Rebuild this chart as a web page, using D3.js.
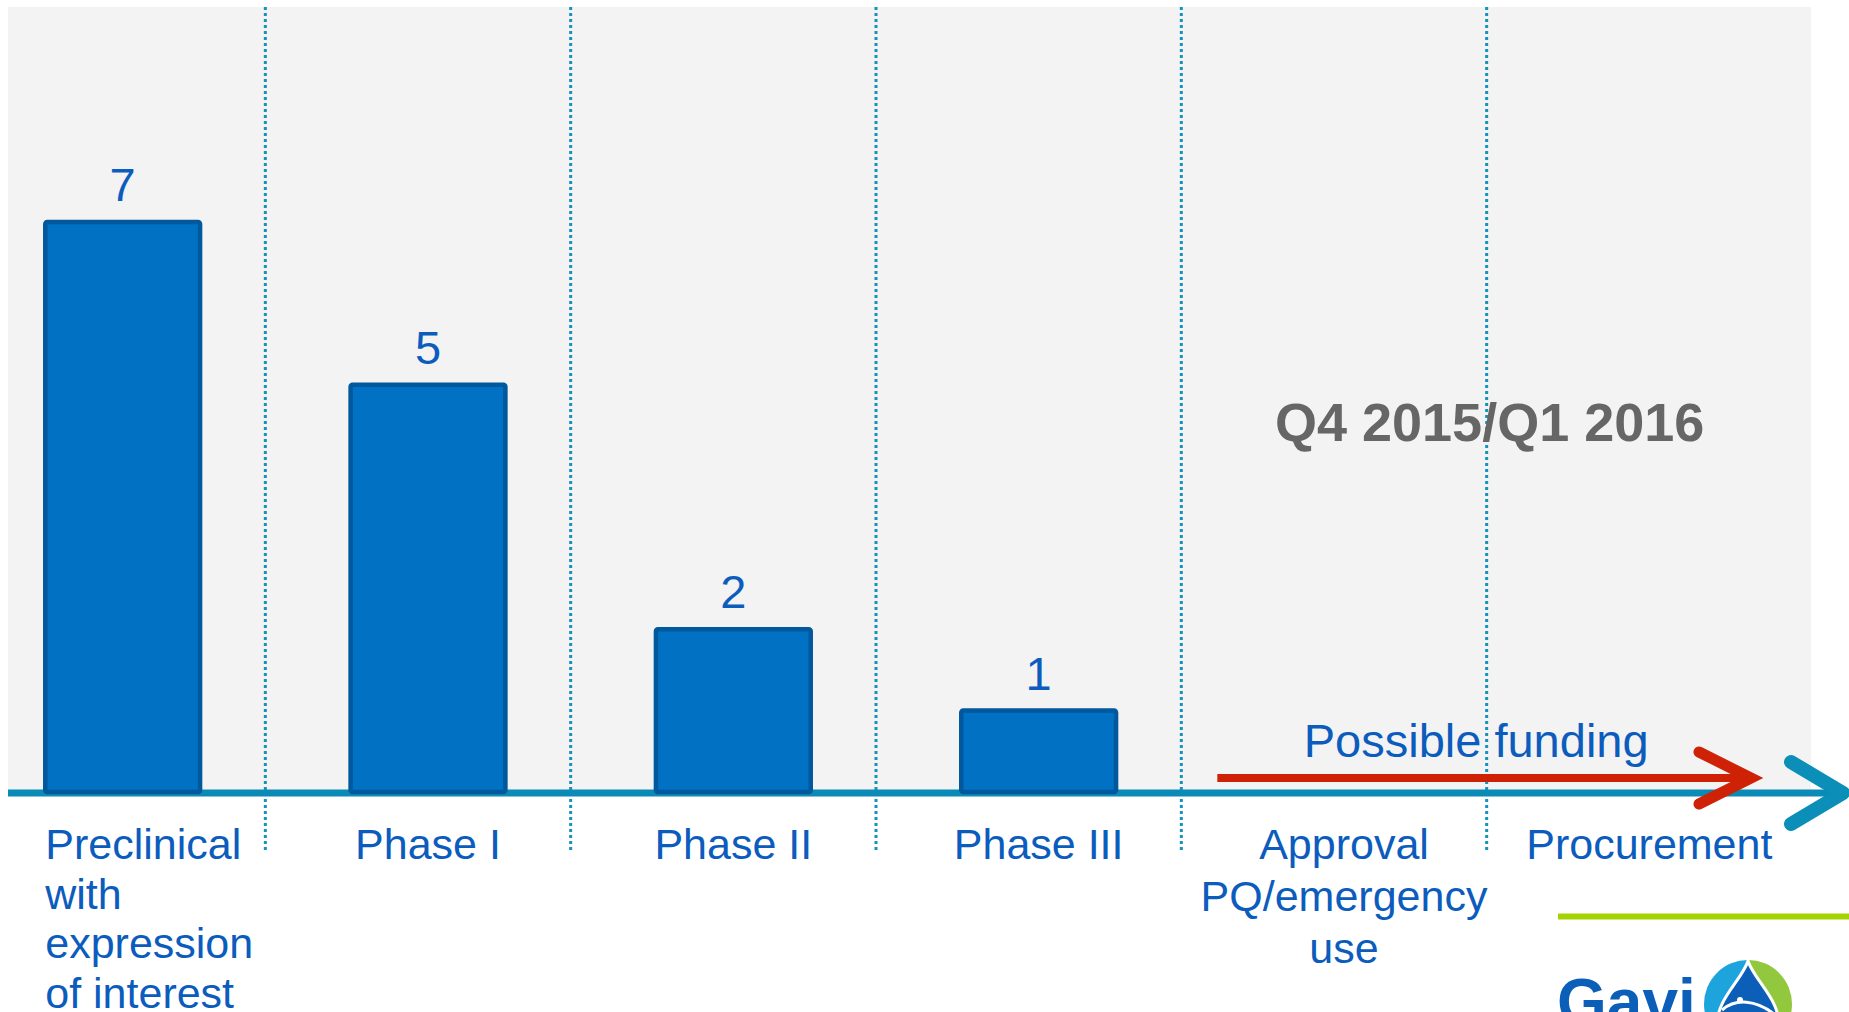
<!DOCTYPE html>
<html>
<head>
<meta charset="utf-8">
<script src="https://cdn.jsdelivr.net/npm/d3@7/dist/d3.min.js"></script>
<style>
  html, body { margin: 0; padding: 0; background: #ffffff; overflow: hidden; }
  svg { display: block; }
  text { font-family: "Liberation Sans", Arial, Helvetica, sans-serif; }
</style>
</head>
<body>
<svg id="chart" width="1849" height="1012"></svg>
<script>
// Pipeline stages, label lines and candidate counts per stage
const stages = ["Preclinical", "Phase I", "Phase II", "Phase III", "Approval", "Procurement"];
const stageLines = [
  ["Preclinical", "with", "expression", "of interest"],
  ["Phase I"],
  ["Phase II"],
  ["Phase III"],
  ["Approval", "PQ/emergency", "use"],
  ["Procurement"]
];
const candidates = [7, 5, 2, 1];
const periodLabel = "Q4 2015/Q1 2016";
const fundingLabel = "Possible funding";
const fundingFrom = "Approval";
const fundingTo = "Procurement";

const W = 1849, H = 1012;
const svg = d3.select("#chart");

const panel = { left: 8, top: 7, right: 1811, bottom: 792 };

const x = d3.scaleBand().domain(stages).range([-30, 1802]).paddingInner(0).paddingOuter(0);
const y = d3.scaleLinear().domain([0, 7]).range([panel.bottom, 222]);
const barW = x.bandwidth() * 0.507;
const cx = s => x(s) + x.bandwidth() / 2;

const blueText = "#0b5cbd";
const teal = "#0a8ab7";

// light grey plot panel
svg.append("rect")
  .attr("x", panel.left).attr("y", panel.top)
  .attr("width", panel.right - panel.left).attr("height", panel.bottom - panel.top)
  .attr("fill", "#f3f3f3");

// dotted stage separators
svg.append("g").selectAll("line")
  .data(stages.slice(1))
  .join("line")
  .attr("x1", d => x(d) - 10).attr("x2", d => x(d) - 10)
  .attr("y1", panel.top).attr("y2", 852)
  .attr("stroke", "#1592be").attr("stroke-width", 3)
  .attr("stroke-dasharray", "3,3");

// timeline axis with arrowhead
svg.append("line")
  .attr("x1", panel.left).attr("x2", 1840)
  .attr("y1", y(0) + 1).attr("y2", y(0) + 1)
  .attr("stroke", teal).attr("stroke-width", 7);
svg.append("path")
  .attr("d", d3.line()([[1791, 762], [1843, 793], [1791, 824]]))
  .attr("fill", "none").attr("stroke", "#0b8fb8").attr("stroke-width", 14)
  .attr("stroke-linecap", "round").attr("stroke-linejoin", "round");

// bars
const barData = candidates.map((v, i) => ({ stage: stages[i], value: v }));
svg.append("g").selectAll("rect")
  .data(barData)
  .join("rect")
  .attr("x", d => cx(d.stage) - barW / 2)
  .attr("y", d => y(d.value))
  .attr("width", barW)
  .attr("height", d => y(0) - y(d.value))
  .attr("rx", 2)
  .attr("fill", "#0071c3")
  .attr("stroke", "#02589c")
  .attr("stroke-width", 4.5);

// value labels
svg.append("g").selectAll("text")
  .data(barData)
  .join("text")
  .attr("x", d => cx(d.stage))
  .attr("y", d => y(d.value) - 21)
  .attr("text-anchor", "middle")
  .attr("font-size", 47)
  .attr("fill", blueText)
  .text(d => d.value);

// stage labels below the axis
const lab = svg.append("g").selectAll("text")
  .data(stages)
  .join("text")
  .attr("font-size", 43)
  .attr("fill", blueText)
  .attr("text-anchor", (d, i) => i === 0 ? "start" : "middle")
  .attr("x", (d, i) => i === 0 ? cx(d) - barW / 2 : cx(d))
  .attr("y", 859);
lab.each(function (d, i) {
  const t = d3.select(this);
  const lh = i === 0 ? 49.5 : 52;
  stageLines[i].forEach((line, k) => {
    t.append("tspan")
      .attr("x", t.attr("x"))
      .attr("dy", k === 0 ? 0 : lh)
      .text(line);
  });
});

// period annotation
svg.append("text")
  .attr("x", x(fundingTo) - 7).attr("y", 441)
  .attr("text-anchor", "middle")
  .attr("font-size", 54).attr("font-weight", "bold")
  .attr("fill", "#666666")
  .text(periodLabel);

// possible funding arrow
const fx0 = x(fundingFrom) + 26;
const fx1 = x(fundingTo) + x.bandwidth() - 51;
svg.append("line")
  .attr("x1", fx0).attr("x2", fx1 - 4)
  .attr("y1", 778).attr("y2", 778)
  .attr("stroke", "#cf2106").attr("stroke-width", 8);
svg.append("path")
  .attr("d", d3.line()([[fx1 - 52, 752], [fx1, 778], [fx1 - 52, 804]]))
  .attr("fill", "none").attr("stroke", "#cf2106").attr("stroke-width", 11)
  .attr("stroke-linecap", "round").attr("stroke-linejoin", "miter");
svg.append("text")
  .attr("x", (fx0 + fx1) / 2 - 8).attr("y", 757)
  .attr("text-anchor", "middle")
  .attr("font-size", 47)
  .attr("fill", blueText)
  .text(fundingLabel);

// footer rule
svg.append("line")
  .attr("x1", 1558).attr("x2", W)
  .attr("y1", 916.5).attr("y2", 916.5)
  .attr("stroke", "#a3d300").attr("stroke-width", 6);

// Gavi logo (cropped by the page bottom)
const logo = svg.append("g");
logo.append("text")
  .attr("x", 1557).attr("y", 1024)
  .attr("font-size", 64).attr("font-weight", "bold")
  .attr("fill", "#0b5fb8")
  .text("Gavi");
const lc = { x: 1748, y: 1004, r: 44 };
logo.append("path")
  .attr("d", d3.arc()({ innerRadius: 0, outerRadius: lc.r, startAngle: Math.PI, endAngle: 2 * Math.PI }))
  .attr("transform", `translate(${lc.x},${lc.y})`)
  .attr("fill", "#1ea4dd");
logo.append("path")
  .attr("d", d3.arc()({ innerRadius: 0, outerRadius: lc.r, startAngle: 0, endAngle: Math.PI }))
  .attr("transform", `translate(${lc.x},${lc.y})`)
  .attr("fill", "#92c83e");
logo.append("path")
  .attr("d", `M${lc.x},${lc.y - lc.r + 1} C${lc.x + 6},${lc.y - 24} ${lc.x + 34},${lc.y - 2} ${lc.x + 30},${lc.y + 22}
              L${lc.x - 30},${lc.y + 22} C${lc.x - 34},${lc.y - 2} ${lc.x - 6},${lc.y - 24} ${lc.x},${lc.y - lc.r + 1} Z`)
  .attr("fill", "#0b5fb8").attr("stroke", "#ffffff").attr("stroke-width", 3);
logo.append("path")
  .attr("d", `M${lc.x - 26},${lc.y + 6} C${lc.x - 12},${lc.y - 6} ${lc.x + 8},${lc.y - 4} ${lc.x + 26},${lc.y + 10}`)
  .attr("fill", "none").attr("stroke", "#ffffff").attr("stroke-width", 3);
logo.append("circle")
  .attr("cx", lc.x - 8).attr("cy", lc.y - 4).attr("r", 3).attr("fill", "#ffffff");
</script>
</body>
</html>
